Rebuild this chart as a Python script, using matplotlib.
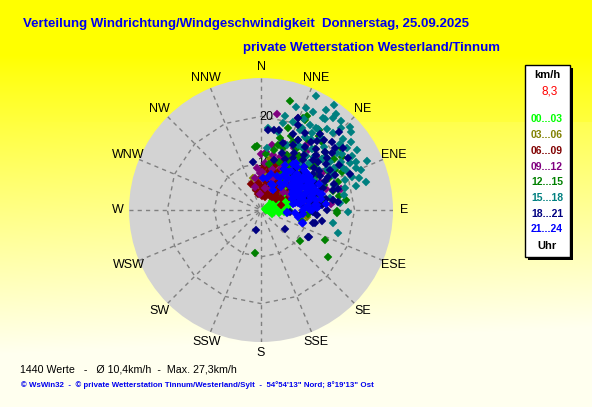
import numpy as np
import matplotlib
matplotlib.use("Agg")
import matplotlib.pyplot as plt
from matplotlib.patches import Rectangle

plt.rcParams['font.family'] = ['Liberation Sans', 'DejaVu Sans']

# ---------------- data: (direction in degrees, speed in km/h) ----------------
dir_00_03 = [70, 75, 80, 65, 85, 90, 60, 70, 78, 88, 95, 60, 55, 65, 72, 50, 58, 62, 80, 90, 94, 68, 74, 84, 100, 45, 52, 66, 76, 82, 92, 86, 58, 100, 110, 75, 85, 95, 70, 80,
             55, 60, 50, 56, 62, 70, 48, 45, 53, 64, 57]
spd_00_03 = [1.5, 2, 2.5, 2, 3, 2, 3, 3.5, 4, 4.5, 5, 4.5, 5, 5.5, 6, 6.5, 7, 7.5, 6, 6, 5.8, 4, 5, 5.5, 4, 4, 3, 6.5, 7, 3.5, 3, 1.5, 2, 2, 2.5, 1, 1, 1.2, 0.8, 1.8,
             4, 5.5, 8, 8.5, 6, 5, 7.5, 5.5, 6, 7, 3.5]

dir_03_06 = [346, 355, 5, 10, 13, 20, 27, 42, 99, 29, 32, 38, 8, 15, 25, 35, 45, 50, 40, 30, 20, 18, 33, 48, 55, 60, 22, 38, 12, 2, 28, 44, 65, 52, 36,
             15, 25, 30, 40, 45, 10, 20, 30, 35, 5]
spd_03_06 = [7, 6.5, 7, 8, 8.8, 9, 10.4, 11.6, 10, 6.1, 7.6, 9.5, 6.5, 7, 8, 8.5, 9, 8, 7, 5.5, 6, 10, 11, 10.5, 9.5, 8, 12, 12.5, 9.5, 8.5, 7.5, 6.5, 7.5, 11.5, 6,
             11, 12, 13, 10, 12, 11, 7.5, 9.5, 10, 9.5]

dir_06_09 = [354, 358, 350, 5, 10, 15, 20, 25, 30, 35, 40, 45, 50, 55, 20, 28, 12, 2, 18, 32, 38, 42, 48, 60, 65, 25, 8, 15, 35, 45, 52, 22, 30, 40, 58, 70, 75, 340, 345, 0,
             10, 20, 25, 15, 5, 30, 35, 45, 50, 40, 28, 18, 33, 55, 5]
spd_06_09 = [5.8, 5.4, 3.5, 4.5, 6, 7.5, 8.5, 9.5, 6.5, 5, 7, 8, 6, 7.5, 5, 4, 8.5, 7, 10, 9, 10, 5.5, 9.5, 5, 6.5, 7, 5, 4, 8, 4.5, 10.5, 6, 11, 3.5, 8.5, 7, 4.5, 6, 4.5, 8.5,
             9.5, 11, 11.5, 10.5, 9.5, 8, 9.5, 10, 11, 9, 5.5, 3, 3.5, 4, 3]

dir_09_12 = [5, 2, 2, 356, 10, 9.5, 74, 72, 82, 35, 22, 20, 75, 70, 350, 355, 15, 25, 30, 40, 45, 50, 55, 60, 65, 20, 30, 40, 50, 60, 80, 85, 12, 28, 38, 48, 58, 0, 345, 25,
             5, 10, 15, 20, 25, 35, 45, 55, 65, 358]
spd_09_12 = [10.1, 8.2, 6.9, 3.4, 4.8, 20.9, 13.2, 14.5, 12.4, 17.1, 21.3, 14.9, 17.6, 11, 7, 9, 9, 10, 12, 11, 13, 9, 12, 10, 14, 7, 8, 7.5, 6, 7, 9, 15, 12, 15, 16, 16.5, 15.5, 12, 5, 5,
             12.5, 14, 11, 12, 13, 14, 10, 8, 11, 8]

dir_12_15 = [15, 26, 356, 15, 125, 128, 188, 91, 115, 83, 83, 92, 42, 52, 57, 24.5, 355, 26, 30, 35, 40, 45, 50, 55, 60, 65, 70, 75, 20, 25, 33, 38, 48, 62, 68, 78, 85, 95, 105, 30, 40, 50, 60, 10, 18,
             20, 25, 30, 35, 40, 28, 22, 15, 32, 45, 50, 55, 60, 65, 70, 75, 80, 42, 36, 12, 5, 38, 48, 58, 70]
spd_12_15 = [24, 22.3, 13.6, 14.4, 17.4, 10.6, 9.3, 16.3, 15.2, 18.4, 13.6, 16.3, 17.4, 21.6, 20.7, 21.7, 13.6, 21.4, 12, 14, 10, 12.5, 15, 11, 13, 16, 12, 10, 11, 16, 18, 20, 18.5, 18, 14.5, 13, 11, 10, 9, 9, 8, 9.5, 9, 10, 18.5,
             14, 13, 15, 16, 15, 17, 17, 16, 11, 16, 17, 19, 16.5, 19, 17.5, 16, 17, 19.5, 21, 13, 12, 13, 14, 14, 9.5]

dir_15_18 = [26, 35, 19, 24, 28, 14, 14, 5, 5.5, 12, 26.6, 33, 38, 34, 49, 49, 54, 34, 59, 63, 65, 66, 75, 70, 63, 64, 71, 91, 100, 107, 58, 59, 35, 39, 43, 35, 40, 33.5, 50, 53, 31, 26, 34, 51, 46, 58, 53, 76, 45, 40, 30, 55, 60, 50, 42, 68, 80, 22, 47, 44,
             40, 45, 50, 55, 60, 65, 70, 75, 80, 85, 30, 35, 25, 20, 42, 38, 55, 62, 68, 72]
spd_15_18 = [27.0, 27.3, 23.2, 23.8, 23.6, 20.8, 19.1, 17.5, 13.3, 17, 19.5, 25.5, 24.9, 23.6, 25.5, 23.2, 22.7, 21.1, 22.6, 22.8, 24.9, 22.3, 23.3, 20.6, 19.6, 17, 16.6, 18.5, 15.6, 17.1, 16.6, 20, 23.8, 22.4, 22.4, 21.2, 20.1, 19.6, 22, 20.3, 18.1, 18.9, 15.9, 18, 14.4, 24.3, 24.2, 21, 19, 17, 16, 15, 13, 12, 13, 14, 15, 15, 26, 24.5,
             15, 16, 17, 18, 18, 20, 19, 18.5, 18, 17, 21, 18.5, 21.5, 20, 25.5, 26, 21, 21.5, 23, 22]

dir_18_21 = [22, 23.5, 5, 9, 13, 350.5, 120, 104, 128, 45, 59, 119, 100, 103.5, 84, 68, 60, 51, 48, 74.5, 94, 92, 94, 22.6, 39, 42, 46, 50, 53, 52, 194, 30, 35, 40, 45, 50, 55, 60, 65, 70, 75, 80, 85, 30, 38, 46, 56, 64, 70, 25, 20, 15, 55, 65, 75, 85, 90, 60, 35, 28,
             40, 45, 50, 55, 60, 65, 70, 75, 80, 55, 48, 62, 72, 78, 88, 95, 42, 36, 32, 58, 68, 82, 86, 52, 66, 44, 30, 38, 26, 18]
spd_18_21 = [21.1, 19.7, 17.1, 17.3, 17.5, 10.4, 11.5, 11.4, 6.5, 23.6, 21.6, 11.7, 13.2, 11.8, 16.5, 20.4, 19.3, 19.4, 18.5, 15.9, 8.8, 11.1, 6.2, 17.7, 19.1, 20, 21, 20.5, 21.9, 18, 4.4, 10, 12, 11, 13, 10, 12, 11, 13, 10, 12, 11, 9, 14, 15, 15.5, 15, 16, 14, 12, 13, 11, 8, 8, 8, 13, 14, 14.5, 16.5, 17,
             14, 16.5, 16, 17, 17, 17.5, 16.5, 17, 14, 13.5, 12, 12.5, 13, 10, 11, 12, 17.5, 18, 13, 9.5, 9, 15.5, 12.5, 14.5, 15, 10, 19, 20.5, 15.5, 15]

dir_21_24 = [94, 107, 3.6, 95, 107.6, 97, 20, 25, 30, 35, 40, 45, 50, 55, 60, 65, 70, 75, 80, 85, 90, 40, 50, 60, 70, 80, 30, 35, 45, 55, 65, 75, 28, 38, 48, 58, 68, 78, 88, 62, 52, 42, 72, 82, 15, 10, 33, 57, 67, 77, 87, 100, 47, 37, 66,
             45, 50, 55, 60, 65, 70, 75, 80, 85, 90, 60, 65, 70, 75, 80, 85, 55, 50, 45, 40, 35, 30, 25, 40, 45, 55, 65, 75, 85, 90, 95, 50, 60, 70, 80, 62, 72, 78, 58, 68]
spd_21_24 = [5.5, 9.4, 6.8, 7.3, 9.2, 5.6, 6, 8, 10, 7, 9, 11, 8, 10, 12, 9, 7, 11, 8, 10, 9, 6.5, 9, 10, 10, 7, 5, 12, 13, 12.5, 12, 13, 11, 10.5, 9.5, 8.5, 10.5, 9.5, 12, 7.5, 11.5, 7.5, 12, 8.5, 8, 7, 9, 8.5, 8, 8.5, 9.5, 8, 12.5, 12.5, 13.5,
             9.5, 10, 11, 8, 7.5, 8.5, 9, 10.5, 11.5, 10.5, 9.5, 10.5, 11.5, 13.5, 13, 14, 12.5, 12.5, 10, 12, 10, 8, 6, 8.5, 11, 9.5, 11, 11, 12, 11, 9, 10.5, 12.5, 12.5, 12, 11, 9.5, 7.5, 11.5, 8]

series_labels = ['00...03', '03...06', '06...09', '09...12', '12...15', '15...18', '18...21', '21...24']
series_colors = ['#00ff00', '#808000', '#800000', '#800080', '#008000', '#008080', '#000080', '#0000ff']
series_dirs = [dir_00_03, dir_03_06, dir_06_09, dir_09_12, dir_12_15, dir_15_18, dir_18_21, dir_21_24]
series_spds = [spd_00_03, spd_03_06, spd_06_09, spd_09_12, spd_12_15, spd_15_18, spd_18_21, spd_21_24]

compass = ['N', 'NNE', 'NE', 'ENE', 'E', 'ESE', 'SE', 'SSE',
           'S', 'SSW', 'SW', 'WSW', 'W', 'WNW', 'NW', 'NNW']
ring_values = [10, 20]
r_max = 28.2

title1 = 'Verteilung Windrichtung/Windgeschwindigkeit  Donnerstag, 25.09.2025'
title2 = 'private Wetterstation Westerland/Tinnum'
stats_text = '1440 Werte   -   \u00d8 10,4km/h  -  Max. 27,3km/h'
footer_text = '\u00a9 WsWin32  -  \u00a9 private Wetterstation Tinnum/Westerland/Sylt  -  54\u00b054\'13" Nord; 8\u00b019\'13" Ost'
current_speed = '8,3'

# ---------------- figure ----------------
W, H = 592, 407
fig = plt.figure(figsize=(W / 100, H / 100), dpi=100)

def fx(x):
    return x / W

def fy(y):
    return 1 - y / H

# background gradient (yellow -> pale yellow)
bg = fig.add_axes([0, 0, 1, 1], zorder=-10)
yy = np.linspace(0, 1, 400)[:, None]
xx = np.linspace(0, 1, 300)[None, :]
t = np.clip((yy * H - 55) / 300.0, 0, 1) ** 0.9
t = np.clip(t + 0.08 * xx * (yy > 0.3), 0, 1)
img = np.zeros((400, 300, 3))
img[..., 0] = 1.0
img[..., 1] = 1.0
img[..., 2] = 0.94 * t
bg.imshow(img, aspect='auto', extent=[0, 1, 0, 1], origin='upper')
bg.axis('off')

# polar axes
cx, cy, R = 261, 210, 132
ax = fig.add_axes([fx(cx - R), fy(cy + R), 2 * R / W, 2 * R / H], projection='polar')
ax.set_theta_zero_location('N')
ax.set_theta_direction(-1)
ax.set_ylim(0, r_max)
ax.set_facecolor('#d3d3d3')
ax.spines['polar'].set_visible(False)
ax.grid(False)
ax.set_xticks([])
ax.set_yticks([])

angles = np.deg2rad(np.arange(16) * 22.5)
grid_kw = dict(color='#808080', lw=1.0, ls=(0, (3, 3)), zorder=1)
for a in angles:
    ax.plot([a, a], [0.6, r_max], **grid_kw)
for rv in ring_values:
    aa = np.append(angles, angles[0])
    ax.plot(aa, [rv] * len(aa), **grid_kw)
    ax.text(np.deg2rad(3.5), rv, str(rv), fontsize=9, ha='center', va='center', zorder=2)

for d, s, c in zip(series_dirs, series_spds, series_colors):
    ax.plot(np.deg2rad(d), s, ls='none', marker='D', ms=4.4, mfc=c, mec=c, mew=0.3, zorder=3)

for a, lab in zip(angles, compass):
    ax.text(a, r_max * 1.085, lab, fontsize=9, ha='center', va='center', clip_on=False)

# titles
fig.text(fx(23), fy(24), title1, color='#0000ee', fontsize=9.5, fontweight='bold', ha='left', va='center')
fig.text(fx(243), fy(48), title2, color='#0000ee', fontsize=9.5, fontweight='bold', ha='left', va='center')

# legend box with shadow
fig.patches.append(Rectangle((fx(528), fy(260)), (570 - 525) / W, (257 - 65) / H,
                             transform=fig.transFigure, facecolor='black', edgecolor='none', zorder=1))
fig.patches.append(Rectangle((fx(525), fy(257)), (570 - 525) / W, (257 - 65) / H,
                             transform=fig.transFigure, facecolor='white', edgecolor='black', lw=1, zorder=2))
fig.text(fx(547), fy(75), 'km/h', fontsize=8, fontweight='bold', ha='center', va='center', zorder=3)
fig.text(fx(550), fy(92), current_speed, fontsize=8.5, color='red', ha='center', va='center', zorder=3)
for i, (lab, c) in enumerate(zip(series_labels, series_colors)):
    fig.text(fx(547), fy(119.5 + i * 15.7), lab, fontsize=7.5, fontweight='bold', color=c,
             ha='center', va='center', zorder=3)
fig.text(fx(547), fy(246), 'Uhr', fontsize=8, fontweight='bold', ha='center', va='center', zorder=3)

# bottom texts
fig.text(fx(20), fy(369), stats_text, fontsize=7.7, ha='left', va='center')
fig.text(fx(21), fy(385.5), footer_text, fontsize=5.7, fontweight='bold', color='#0000ee', ha='left', va='center')

fig.savefig('out.png', dpi=100)
